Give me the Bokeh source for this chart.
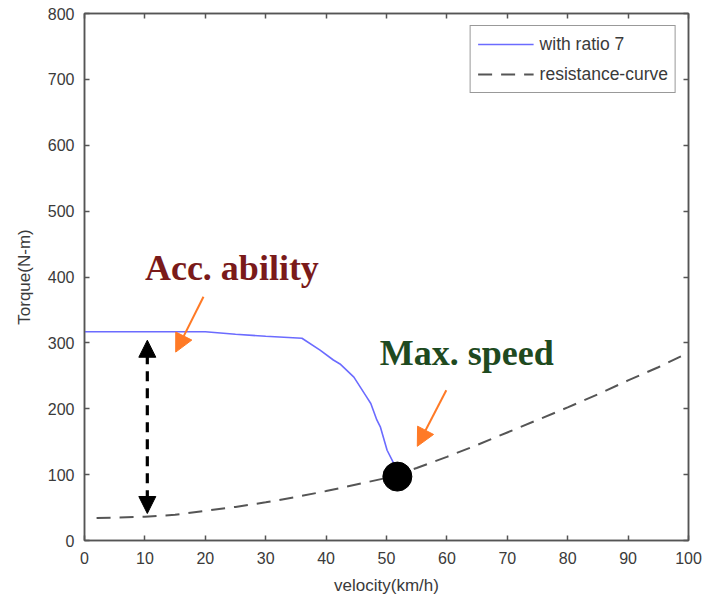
from bokeh.plotting import figure
from bokeh.models import (Range1d, FixedTicker, LinearAxis, Legend, LegendItem,
                          Arrow, NormalHead, Label, CustomJSTickFormatter)
from bokeh.embed import file_html
from bokeh.resources import INLINE

# ---- data ----
motor_velocity = [0, 5, 10, 15, 20, 25, 30, 36, 39, 41.2, 42.3, 44.6, 46.7, 47.4, 48.4, 49.0, 50.1, 51.2, 51.8]
motor_torque = [317, 317, 317, 317, 317, 313, 310, 307, 289, 274, 268, 248, 218, 208, 183, 172, 137, 117, 98]

resist_velocity = [2, 10, 15, 20, 25, 30, 35, 40, 45, 50, 55, 60, 65, 70, 75, 80, 85, 90, 95, 100]
resist_torque = [34, 36, 39, 45, 51, 58, 66, 75, 85, 95, 110, 127, 145, 164, 183, 202, 222, 243, 263, 285]

max_speed_point = (51.8, 97)

x_ticks = list(range(0, 101, 10))
y_ticks = list(range(0, 801, 100))

# annotations (data coords)
gap_arrow = dict(x=10.4, y_top=304, y_bottom=41)
acc_arrow = dict(x0=19.7, y0=370, x1=15.1, y1=286)
speed_arrow = dict(x0=59.9, y0=228, x1=55.1, y1=143)
acc_label = dict(x=10.0, y=413, text="Acc. ability")
speed_label = dict(x=48.9, y=284, text="Max. speed")

AX = "#555555"
TXT = "#3a3a3a"
SANS = "Liberation Sans"

p = figure(frame_width=604, frame_height=527, output_backend="svg", toolbar_location=None,
           x_range=Range1d(0, 100), y_range=Range1d(0, 800),
           min_border_left=84, min_border_right=14, min_border_top=13, min_border_bottom=57)
p.background_fill_color = "white"
p.border_fill_color = "white"
p.outline_line_color = AX
p.outline_line_width = 1.5
p.grid.visible = False

for ax in (p.xaxis[0], p.yaxis[0]):
    ax.major_tick_in = 5
    ax.major_tick_out = 0
    ax.minor_tick_in = 0
    ax.minor_tick_out = 0
    ax.axis_line_color = AX
    ax.axis_line_width = 1.5
    ax.major_tick_line_color = AX
    ax.major_tick_line_width = 1.5
    ax.major_label_text_font = SANS
    ax.major_label_text_font_size = "16px"
    ax.major_label_text_color = TXT
    ax.axis_label_text_font = SANS
    ax.axis_label_text_font_size = "17px"
    ax.axis_label_text_font_style = "normal"
    ax.axis_label_text_color = TXT

p.xaxis[0].ticker = FixedTicker(ticks=x_ticks)
p.yaxis[0].ticker = FixedTicker(ticks=y_ticks)
p.xaxis[0].axis_label = "velocity(km/h)"
p.yaxis[0].axis_label = "Torque(N-m)"
p.xaxis[0].major_label_standoff = 11
p.yaxis[0].major_label_standoff = 10
p.xaxis[0].axis_label_standoff = 9
p.yaxis[0].axis_label_standoff = 11

for loc, ticks in (("right", y_ticks), ("above", x_ticks)):
    a = LinearAxis(ticker=FixedTicker(ticks=ticks),
                   formatter=CustomJSTickFormatter(code="return ''"))
    a.major_tick_in = 5
    a.major_tick_out = 0
    a.minor_tick_in = 0
    a.minor_tick_out = 0
    a.major_label_standoff = 0
    a.axis_line_color = AX
    a.axis_line_width = 1.5
    a.major_tick_line_color = AX
    a.major_tick_line_width = 1.5
    p.add_layout(a, loc)

r_res = p.line(resist_velocity, resist_torque, line_color="#555555", line_width=2, line_dash="14 9")
r_mot = p.line(motor_velocity, motor_torque, line_color="#6b6bff", line_width=1.6)
p.scatter([max_speed_point[0]], [max_speed_point[1]], size=29, fill_color="black", line_color="black")

# double arrow
p.add_layout(Arrow(x_start=gap_arrow["x"], y_start=gap_arrow["y_bottom"] + 20,
                   x_end=gap_arrow["x"], y_end=gap_arrow["y_top"] - 20,
                   line_color="black", line_width=3.2, line_dash="10 7", end=None))
p.add_layout(Arrow(x_start=gap_arrow["x"], y_start=gap_arrow["y_top"] - 1,
                   x_end=gap_arrow["x"], y_end=gap_arrow["y_top"],
                   line_alpha=0, end=NormalHead(size=17, fill_color="black", line_color="black")))
p.add_layout(Arrow(x_start=gap_arrow["x"], y_start=gap_arrow["y_bottom"] + 1,
                   x_end=gap_arrow["x"], y_end=gap_arrow["y_bottom"],
                   line_alpha=0, end=NormalHead(size=17, fill_color="black", line_color="black")))

ORANGE = "#ff7a26"
for a in (acc_arrow, speed_arrow):
    p.add_layout(Arrow(x_start=a["x0"], y_start=a["y0"], x_end=a["x1"], y_end=a["y1"],
                       line_color=ORANGE, line_width=2,
                       end=NormalHead(size=18, fill_color=ORANGE, line_color=ORANGE)))

p.add_layout(Label(x=acc_label["x"], y=acc_label["y"], text=acc_label["text"],
                   text_font="Liberation Serif", text_font_style="bold", text_font_size="36px",
                   text_color="#7a1a1a", text_baseline="alphabetic"))
p.add_layout(Label(x=speed_label["x"], y=speed_label["y"], text=speed_label["text"],
                   text_font="Liberation Serif", text_font_style="bold", text_font_size="36px",
                   text_color="#1f4a1f", text_baseline="alphabetic"))

legend = Legend(items=[LegendItem(label="with ratio 7", renderers=[r_mot]),
                       LegendItem(label="resistance-curve", renderers=[r_res])],
                location="top_right", margin=12, padding=7, spacing=8,
                label_height=22, glyph_height=22, glyph_width=56, label_standoff=6,
                label_text_font=SANS, label_text_font_size="17.5px",
                label_text_color=TXT, border_line_color="#333333", border_line_width=1.2,
                background_fill_color="white")
p.add_layout(legend)

open("out.html", "w").write(file_html(p, INLINE))
